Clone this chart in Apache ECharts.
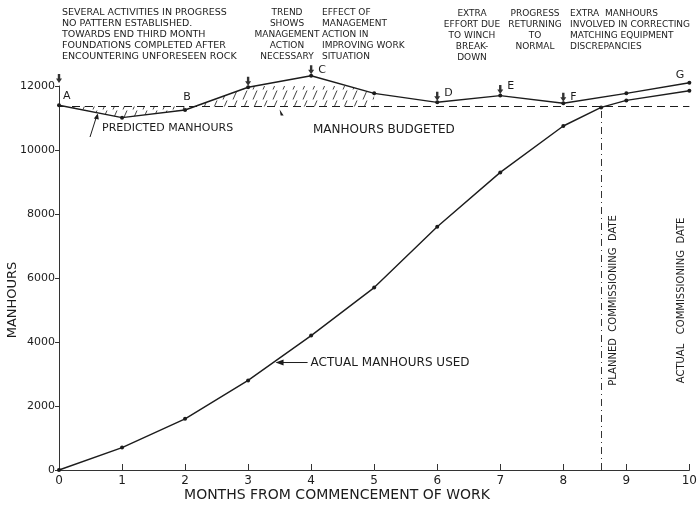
<!DOCTYPE html>
<html><head><meta charset="utf-8">
<script src="https://cdn.jsdelivr.net/npm/echarts@6/dist/echarts.min.js"></script>
<style>html,body{margin:0;padding:0;background:#fff}#c{width:700px;height:506px}</style>
</head><body><div id="c"></div>
<script>
// ---- data ----
const months = [0,1,2,3,4,5,6,7,8,9,10];
const predicted = [11400,11010,11250,11960,12320,11770,11490,11700,11460,11770,12100];
const eventLetters = ['A','','B','','C','','D','E','F','','G'];
const actualMonths = [0,1,2,3,4,5,6,7,8,8.6,9,10];
const actual = [0,700,1600,2800,4200,5700,7600,9300,10750,11330,11550,11850];
const budgeted = 11360;
const hatchedUntilMonth = 5;
const arrowMonths = [0,3,4,6,7,8];
const arrowValues = [12050,11960,12320,11490,11700,11460];
const plannedCommissioning = 8.6;
const actualCommissioningLabelMonth = 9.88;
const yTicks = [0,2000,4000,6000,8000,10000,12000];
const xTicks = months;
const notes = [
  {x:62, y:7, align:'left', size:9.5, text:'SEVERAL ACTIVITIES IN PROGRESS\nNO PATTERN ESTABLISHED.\nTOWARDS END THIRD MONTH\nFOUNDATIONS COMPLETED AFTER\nENCOUNTERING UNFORESEEN ROCK'},
  {x:287, y:7, align:'center', size:9, text:'TREND\nSHOWS\nMANAGEMENT\nACTION\nNECESSARY'},
  {x:322, y:7, align:'left', size:9, text:'EFFECT OF\nMANAGEMENT\nACTION IN\nIMPROVING WORK\nSITUATION'},
  {x:472, y:8, align:'center', size:9, text:'EXTRA\nEFFORT DUE\nTO WINCH\nBREAK-\nDOWN'},
  {x:535, y:8, align:'center', size:9, text:'PROGRESS\nRETURNING\nTO\nNORMAL'},
  {x:570, y:8, align:'left', size:9, text:'EXTRA  MANHOURS\nINVOLVED IN CORRECTING\nMATCHING EQUIPMENT\nDISCREPANCIES'}
];

const FONT = 'DejaVu Sans';
const INK = '#1c1c1c';

function hatchCanvas(){
  const c = document.createElement('canvas');
  c.width = 10; c.height = 10;
  const g = c.getContext('2d');
  g.strokeStyle = '#444'; g.lineWidth = 1;
  g.beginPath(); g.moveTo(3,9.5); g.lineTo(7,0.5); g.stroke();
  return c;
}

const letterPos = {
  A:{position:'right', offset:[-3,-9]},
  B:{position:'top', offset:[2,0]},
  C:{position:'right', offset:[0,-6]},
  D:{position:'right', offset:[0,-9]},
  E:{position:'right', offset:[0,-9]},
  F:{position:'right', offset:[0,-6]},
  G:{position:'left', offset:[2,-8]}
};

const predData = months.map((m,i)=>{
  const L = eventLetters[i];
  const d = {value:[m,predicted[i]]};
  if (L) d.label = Object.assign({show:true, formatter:L, color:INK, fontFamily:FONT, fontSize:11}, letterPos[L]);
  return d;
});
const hatchData = months.filter(m=>m<=hatchedUntilMonth).map((m,i)=>[m,predicted[i]]);
const actData = actualMonths.map((m,i)=>[m,actual[i]]);
const arrowData = arrowMonths.map((m,i)=>[m,arrowValues[i]]);

const chart = echarts.init(document.getElementById('c'));
chart.setOption({
  animation:false,
  backgroundColor:'#fff',
  grid:{left:59,right:1,top:86,bottom:36},
  xAxis:{type:'value',min:0,max:10,interval:1,
    axisLine:{lineStyle:{color:'#333',width:1}},
    axisTick:{inside:true,length:6,lineStyle:{color:'#333'}},
    axisLabel:{color:INK,fontFamily:FONT,fontSize:12,margin:5,formatter:v=>String(v)},
    splitLine:{show:false}},
  yAxis:{type:'value',min:0,max:12000,interval:2000,
    axisLine:{show:true,lineStyle:{color:'#333',width:1}},
    axisTick:{show:true,length:4,lineStyle:{color:'#333'}},
    axisLabel:{color:INK,fontFamily:FONT,fontSize:11,margin:4,formatter:v=>String(v)},
    splitLine:{show:false}},
  series:[
    {type:'line',data:hatchData,symbol:'none',lineStyle:{width:0},z:1,silent:true,
     areaStyle:{origin:budgeted,color:{image:hatchCanvas(),repeat:'repeat'},opacity:1}},
    {type:'line',data:predData,symbol:'circle',symbolSize:4,clip:false,z:3,
     itemStyle:{color:INK},lineStyle:{color:INK,width:1.4},
     markLine:{silent:true,symbol:'none',label:{show:false},
       lineStyle:{color:INK,type:[8,5],width:1.2},
       data:[{yAxis:budgeted}]}},
    {type:'line',data:actData,symbol:'circle',symbolSize:4,clip:false,z:3,
     itemStyle:{color:INK},lineStyle:{color:INK,width:1.4},
     markLine:{silent:true,symbol:'none',label:{show:false},
       lineStyle:{color:'#333',type:[7,4,1,4],width:1},
       data:[[{coord:[plannedCommissioning,0]},{coord:[plannedCommissioning,budgeted]}]]}},
    {type:'scatter',data:arrowData,clip:false,z:4,
     symbol:'path://M3,0 L7,0 L7,6 L10,6 L5,12 L0,6 L3,6 Z',symbolSize:[6,9],symbolOffset:[0,-6],
     itemStyle:{color:'#000'}}
  ]
});

// annotations
const g = [];
notes.forEach(n=>{
  g.push({type:'text',x:n.x,y:n.y,silent:true,
    style:{text:n.text,fill:INK,font:n.size+'px '+FONT,align:n.align,verticalAlign:'top',lineHeight:11}});
});
const px = (x,y)=>chart.convertToPixel({gridIndex:0},[x,y]);
// axis names
g.push({type:'text',x:13,y:300,rotation:Math.PI/2,silent:true,
  style:{text:'MANHOURS',fill:INK,font:'13px '+FONT,align:'center',verticalAlign:'middle'}});
g.push({type:'text',x:337,y:495,silent:true,
  style:{text:'MONTHS FROM COMMENCEMENT OF WORK',fill:INK,font:'14px '+FONT,align:'center',verticalAlign:'middle'}});
// predicted / budgeted labels
g.push({type:'text',x:102,y:128,silent:true,
  style:{text:'PREDICTED MANHOURS',fill:INK,font:'11px '+FONT,align:'left',verticalAlign:'middle'}});
const pTip = px(0.6, 11170);
g.push({type:'line',silent:true,shape:{x1:90,y1:137,x2:pTip[0],y2:pTip[1]+3},style:{stroke:INK,lineWidth:1}});
g.push({type:'polygon',silent:true,shape:{points:[[pTip[0]+1,pTip[1]+1],[pTip[0]-3,pTip[1]+6],[pTip[0]+2,pTip[1]+7]]},style:{fill:INK}});
g.push({type:'text',x:313,y:130,silent:true,
  style:{text:'MANHOURS BUDGETED',fill:INK,font:'12px '+FONT,align:'left',verticalAlign:'middle'}});
const bTip = px(3.5, budgeted);
g.push({type:'polygon',silent:true,shape:{points:[[bTip[0],bTip[1]+3],[bTip[0]+4,bTip[1]+9],[bTip[0]+1,bTip[1]+9]]},style:{fill:INK}});
// actual label with arrow
const aTip = px(3.42, 3390);
g.push({type:'line',silent:true,shape:{x1:aTip[0]+2,y1:aTip[1]+1,x2:aTip[0]+33,y2:aTip[1]+1},style:{stroke:INK,lineWidth:1}});
g.push({type:'polygon',silent:true,shape:{points:[[aTip[0]+1,aTip[1]+1],[aTip[0]+9,aTip[1]-2],[aTip[0]+9,aTip[1]+4]]},style:{fill:INK}});
g.push({type:'text',x:aTip[0]+36,y:aTip[1]+1,silent:true,
  style:{text:'ACTUAL MANHOURS USED',fill:INK,font:'12px '+FONT,align:'left',verticalAlign:'middle'}});
// commissioning labels
const pc = px(plannedCommissioning, 5300);
g.push({type:'text',x:pc[0]+12,y:pc[1],rotation:Math.PI/2,silent:true,
  style:{text:'PLANNED  COMMISSIONING  DATE',fill:INK,font:'10px '+FONT,align:'center',verticalAlign:'middle'}});
const ac = px(actualCommissioningLabelMonth, 5300);
g.push({type:'text',x:ac[0],y:ac[1],rotation:Math.PI/2,silent:true,
  style:{text:'ACTUAL   COMMISSIONING  DATE',fill:INK,font:'10px '+FONT,align:'center',verticalAlign:'middle'}});
chart.setOption({graphic:g});
</script></body></html>
